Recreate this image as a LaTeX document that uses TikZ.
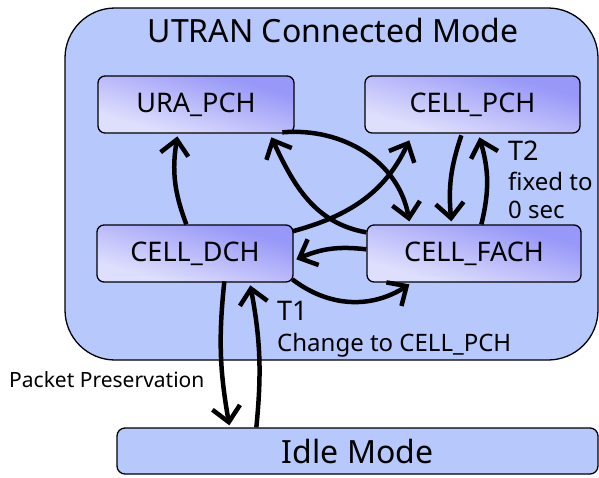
\documentclass[tikz,border=0pt]{standalone}
\usepackage{fontspec}
\setmainfont{Noto Sans}
\usetikzlibrary{arrows.meta,calc}

\definecolor{modefill}{RGB}{183,201,252}
\definecolor{statedark}{RGB}{152,152,248}
\definecolor{statelight}{RGB}{222,222,253}

% state fill: light at the bottom left, dark at the top right
\pgfdeclareverticalshading{stategrad}{100bp}{%
  color(0bp)=(statelight); color(30bp)=(statelight);
  color(70bp)=(statedark); color(100bp)=(statedark)}

\tikzset{
  statebox/.style={draw=black, line width=1.3pt, rounded corners=7pt,
    shading=stategrad, shading angle=-16,
    inner sep=0pt, font=\fontsize{27}{32}\selectfont},
  modebox/.style={draw=black, line width=1.3pt, fill=modefill, inner sep=0pt},
  trans/.style={line width=4.5pt, -{Straight Barb[length=15pt,width=28pt,line width=4.5pt]}},
  note/.style={inner sep=0pt, anchor=base west, align=left},
}

\begin{document}
\begin{tikzpicture}[x=1pt, y=-1pt]
  \useasboundingbox (0,0) rectangle (599,477);

  % outer container for the connected-mode states
  \node[modebox, rounded corners=50pt, minimum width=533pt, minimum height=352pt]
    (utran) at (331.5,184) {};
  \node[inner sep=0pt, anchor=base, font=\fontsize{32}{38}\selectfont]
    (utrantitle) at (333,42) {UTRAN Connected Mode};

  % states
  \node[statebox, minimum width=196pt, minimum height=57pt] (ura)  at (196,104.5) {URA\_PCH};
  \node[statebox, minimum width=215pt, minimum height=57pt] (pch)  at (472.5,104.5) {CELL\_PCH};
  \node[statebox, minimum width=196pt, minimum height=57pt] (dch)  at (195,253.5) {CELL\_DCH};
  \node[statebox, minimum width=214pt, minimum height=57pt] (fach) at (474,253.5) {CELL\_FACH};

  % idle mode
  \node[modebox, rounded corners=8pt, minimum width=481pt, minimum height=46pt,
        font=\fontsize{32}{38}\selectfont] (idle) at (357.5,451) {Idle Mode};

  % transitions
  \draw[trans] ($(dch.north west)+(90,0)$)  to[bend left=15]  ($(ura.north west)+(80,61)$);
  \draw[trans] ($(fach.north west)+(0,8)$)  to[out=170,in=-65] ($(ura.north west)+(174,62)$);
  \draw[trans] ($(ura.north west)+(185,57)$) to[out=5,in=100]  ($(fach.north west)+(43,-3)$);
  \draw[trans] ($(dch.north west)+(196,7)$) to[out=15,in=-115] ($(pch.north west)+(45,65)$);
  \draw[trans] ($(pch.north west)+(97,60)$) to[bend right=12] ($(fach.north west)+(85,-3)$);
  \draw[trans] ($(fach.north west)+(115,0)$) to[bend right=15] ($(pch.north west)+(115,62)$);
  \draw[trans] ($(fach.north west)+(0,25)$) to[bend right=15] ($(dch.north west)+(200,35)$);
  \draw[trans] ($(dch.north west)+(196,55)$) to[bend right=35] ($(fach.north west)+(43,60)$);
  \draw[trans] ($(dch.north west)+(128,57)$) to[bend right=8] ($(idle.north west)+(113,-2)$);
  \draw[trans] ($(idle.north west)+(140,0)$) to[bend right=8] ($(dch.north west)+(154,61)$);

  % timer annotations
  \node[note, font=\fontsize{27}{32}\selectfont] (t2) at (508,160) {T2};
  \node[note, font=\fontsize{24}{28}\selectfont] (t2a) at (508,190) {fixed to};
  \node[note, font=\fontsize{24}{28}\selectfont] (t2b) at (508,218) {0 sec};
  \node[note, font=\fontsize{27}{32}\selectfont] (t1) at (277,320) {T1};
  \node[note, font=\fontsize{24}{28}\selectfont] (t1a) at (277,351) {Change to CELL\_PCH};
  \node[note, font=\fontsize{21}{25}\selectfont] (pp) at (9,387) {Packet Preservation};
\end{tikzpicture}
\end{document}
